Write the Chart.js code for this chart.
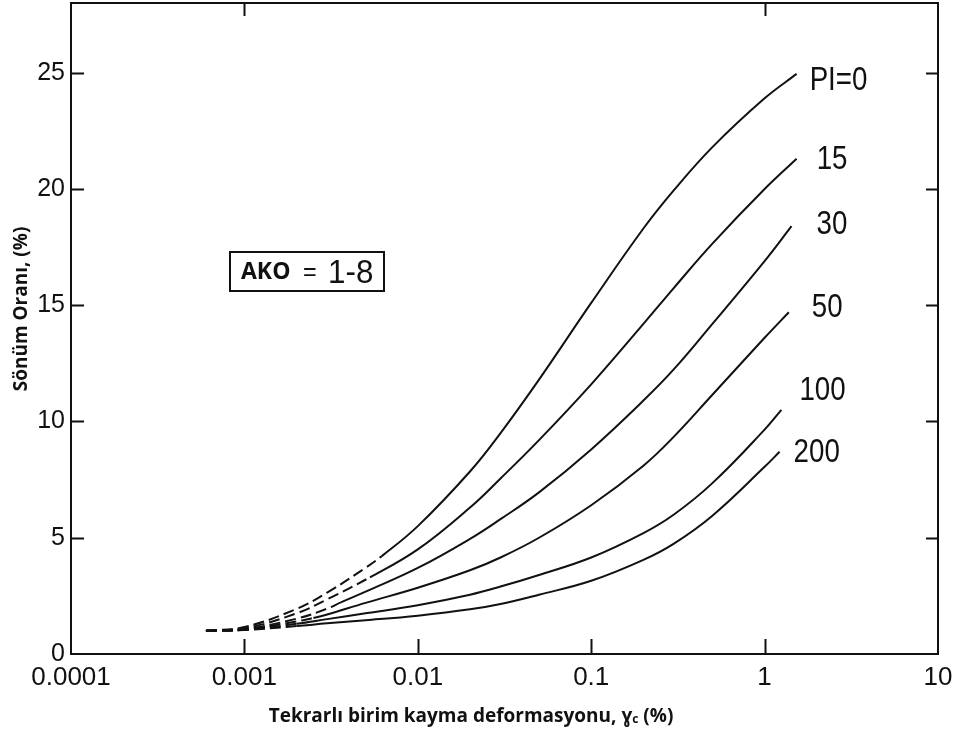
<!DOCTYPE html>
<html>
<head>
<meta charset="utf-8">
<script src="https://cdn.jsdelivr.net/npm/chart.js@4.4.1/dist/chart.umd.min.js"></script>
<style>
  html, body { margin: 0; padding: 0; background: #fff; }
  #wrap { width: 955px; height: 733px; }
</style>
</head>
<body>
<div id="wrap"><canvas id="chart" width="955" height="733"></canvas></div>
<script>
// Damping ratio (%) against cyclic shear strain (%) for several plasticity indices
const curveLabels = ['PI=0', '15', '30', '50', '100', '200'];

const strainPI0  = [0.0006, 0.001, 0.002, 0.003, 0.005, 0.0062, 0.01, 0.02, 0.03, 0.05, 0.1, 0.2, 0.3, 0.5, 1.0, 1.53];
const dampingPI0 = [1.0, 1.16, 1.94, 2.64, 3.71, 4.21, 5.5, 7.85, 9.5, 11.8, 15.1, 18.3, 19.95, 21.8, 23.9, 24.95];

const strainPI15  = [0.0006, 0.001, 0.002, 0.003, 0.0053, 0.01, 0.02, 0.03, 0.05, 0.1, 0.2, 0.3, 0.5, 1.0, 1.53];
const dampingPI15 = [1.0, 1.1, 1.75, 2.35, 3.3, 4.5, 6.3, 7.55, 9.2, 11.6, 14.2, 15.75, 17.65, 20.0, 21.3];

const strainPI30  = [0.0006, 0.001, 0.002, 0.003, 0.0036, 0.005, 0.01, 0.02, 0.03, 0.05, 0.1, 0.2, 0.3, 0.5, 1.0, 1.43];
const dampingPI30 = [1.0, 1.07, 1.52, 1.95, 2.22, 2.68, 3.7, 4.95, 5.8, 6.95, 8.8, 10.9, 12.25, 14.2, 16.9, 18.4];

const strainPI50  = [0.0006, 0.001, 0.002, 0.0025, 0.003, 0.005, 0.01, 0.02, 0.03, 0.05, 0.1, 0.2, 0.3, 0.5, 1.0, 1.38];
const dampingPI50 = [1.0, 1.05, 1.4, 1.55, 1.7, 2.2, 2.85, 3.6, 4.15, 5.0, 6.4, 8.1, 9.35, 11.15, 13.6, 14.7];

const strainPI100  = [0.0006, 0.001, 0.002, 0.003, 0.005, 0.01, 0.02, 0.03, 0.05, 0.1, 0.2, 0.3, 0.5, 1.0, 1.25];
const dampingPI100 = [1.0, 1.04, 1.3, 1.5, 1.75, 2.1, 2.55, 2.9, 3.4, 4.15, 5.2, 6.0, 7.35, 9.65, 10.5];

const strainPI200  = [0.0006, 0.001, 0.002, 0.003, 0.005, 0.01, 0.02, 0.03, 0.05, 0.1, 0.2, 0.3, 0.5, 1.0, 1.22];
const dampingPI200 = [1.0, 1.03, 1.2, 1.32, 1.45, 1.65, 1.92, 2.15, 2.55, 3.15, 4.05, 4.75, 5.95, 8.05, 8.7];

// Each curve is dashed (extrapolated) up to this strain, solid beyond it
const dashedUntil = [0.0062, 0.0053, 0.0036, 0.0025, 0.002, 0.002];

const strainTicks      = [0.0001, 0.001, 0.01, 0.1, 1, 10];
const strainTickLabels = ['0.0001', '0.001', '0.01', '0.1', '1', '10'];
const topAxisTicks     = [0.001, 1];
const dampingTicks     = [0, 5, 10, 15, 20, 25];
const dampingMax       = 28;

const xTitle = ['Tekrarlı birim kayma deformasyonu, ɣ', 'c', ' (%)'];
const yTitle = 'Sönüm Oranı, (%)';
const boxLabel = ['AKO', '=', '1-8'];

const strains  = [strainPI0, strainPI15, strainPI30, strainPI50, strainPI100, strainPI200];
const dampings = [dampingPI0, dampingPI15, dampingPI30, dampingPI50, dampingPI100, dampingPI200];

const INK = '#111';
const NUM_FONT = "'Liberation Sans', Arial, sans-serif";
const TITLE_FONT = "'Open Sans', 'Noto Sans', sans-serif";

const datasets = strains.map((xs, i) => ({
  label: curveLabels[i],
  data: xs.map((s, k) => ({ x: s, y: dampings[i][k] })),
  borderColor: INK,
  borderWidth: 2,
  pointRadius: 0,
  fill: false,
  tension: 0.4,
  segment: {
    borderDash: ctx => (xs[ctx.p1DataIndex] <= dashedUntil[i] ? [11, 5] : undefined)
  }
}));

// condensed numerals, as on the original drawing
function narrowText(ctx, text, x, y, size, squeeze) {
  ctx.save();
  ctx.translate(x, y);
  ctx.scale(squeeze, 1);
  ctx.font = `${size}px ${NUM_FONT}`;
  ctx.fillText(text, 0, 0);
  const w = ctx.measureText(text).width * squeeze;
  ctx.restore();
  return w;
}

// Frame, inward tick marks, curve labels, parameter box and axis titles
const decorPlugin = {
  id: 'decor',
  afterDatasetsDraw(chart) {
    const { ctx, chartArea: a, scales: { x, y } } = chart;
    ctx.save();
    ctx.strokeStyle = INK;
    ctx.fillStyle = INK;
    ctx.lineWidth = 2;
    ctx.strokeRect(a.left, a.top, a.right - a.left, a.bottom - a.top);

    ctx.beginPath();
    dampingTicks.forEach(v => {
      if (v === 0) return;
      const py = Math.round(y.getPixelForValue(v)) + 0.5;
      ctx.moveTo(a.left, py);  ctx.lineTo(a.left + 13, py);
      ctx.moveTo(a.right, py); ctx.lineTo(a.right - 12, py);
    });
    strainTicks.slice(1, -1).forEach(v => {
      const px = Math.round(x.getPixelForValue(v)) + 0.5;
      ctx.moveTo(px, a.bottom); ctx.lineTo(px, a.bottom - 15);
    });
    topAxisTicks.forEach(v => {
      const px = Math.round(x.getPixelForValue(v)) + 0.5;
      ctx.moveTo(px, a.top); ctx.lineTo(px, a.top + 13);
    });
    ctx.stroke();

    // curve labels next to the end of each curve
    const offsets = [[13, 6], [20, 0], [25, -2], [23, -5], [18, -20], [14, 0]];
    ctx.textAlign = 'left';
    ctx.textBaseline = 'middle';
    strains.forEach((xs, i) => {
      const n = xs.length - 1;
      const px = x.getPixelForValue(xs[n]);
      const py = y.getPixelForValue(dampings[i][n]);
      narrowText(ctx, curveLabels[i], px + offsets[i][0], py + offsets[i][1] + 1, 33, 0.84);
    });

    // parameter box
    const bx = a.left + 159, by = a.top + 249, bw = 154, bh = 39;
    ctx.lineWidth = 2;
    ctx.strokeRect(bx, by, bw, bh);
    const my = by + bh / 2 + 1;
    ctx.font = `bold 23px ${TITLE_FONT}`;
    ctx.fillText(boxLabel[0], bx + 11, my);
    narrowText(ctx, boxLabel[1], bx + 73, my, 26, 0.9);
    narrowText(ctx, boxLabel[2], bx + 98, my + 1, 33, 0.95);

    // x axis title with subscript
    const big = `bold 19px ${TITLE_FONT}`, small = `bold 12px ${TITLE_FONT}`;
    ctx.font = big;
    const w1 = ctx.measureText(xTitle[0]).width;
    const w3 = ctx.measureText(xTitle[2]).width;
    ctx.font = small;
    const w2 = ctx.measureText(xTitle[1]).width;
    const sx = 471 - (w1 + w2 + w3) / 2;
    const base = 722;
    ctx.textBaseline = 'alphabetic';
    ctx.font = big;
    ctx.fillText(xTitle[0], sx, base);
    ctx.font = small;
    ctx.fillText(xTitle[1], sx + w1, base + 1);
    ctx.font = big;
    ctx.fillText(xTitle[2], sx + w1 + w2, base);

    // y axis title
    ctx.translate(22, 309);
    ctx.rotate(-Math.PI / 2);
    ctx.textAlign = 'center';
    ctx.textBaseline = 'middle';
    ctx.fillText(yTitle, 0, 0);
    ctx.restore();
  }
};

const noOverhang = s => { s.paddingLeft = 0; s.paddingRight = 0; s.paddingTop = 0; s.paddingBottom = 0; };

new Chart(document.getElementById('chart'), {
  type: 'line',
  data: { datasets },
  options: {
    responsive: false,
    animation: false,
    devicePixelRatio: 1,
    layout: { padding: { top: 3, right: 17, left: 0, bottom: 0 } },
    plugins: { legend: { display: false }, tooltip: { enabled: false } },
    scales: {
      x: {
        type: 'logarithmic',
        min: strainTicks[0],
        max: strainTicks[strainTicks.length - 1],
        afterBuildTicks: s => { s.ticks = strainTicks.map(v => ({ value: v })); },
        afterFit: s => { s.height = 79; noOverhang(s); },
        grid: { display: false, drawTicks: false },
        border: { display: false },
        ticks: {
          autoSkip: false,
          maxRotation: 0,
          padding: 8,
          color: INK,
          font: { family: NUM_FONT, size: 26 },
          callback: (v, idx) => strainTickLabels[idx]
        }
      },
      y: {
        type: 'linear',
        min: 0,
        max: dampingMax,
        afterBuildTicks: s => { s.ticks = dampingTicks.map(v => ({ value: v })); },
        afterFit: s => { s.width = 71; noOverhang(s); },
        grid: { display: false, drawTicks: false },
        border: { display: false },
        ticks: {
          padding: 6,
          color: INK,
          font: { family: NUM_FONT, size: 25 },
          callback: v => String(v)
        }
      }
    }
  },
  plugins: [decorPlugin]
});
</script>
</body>
</html>
